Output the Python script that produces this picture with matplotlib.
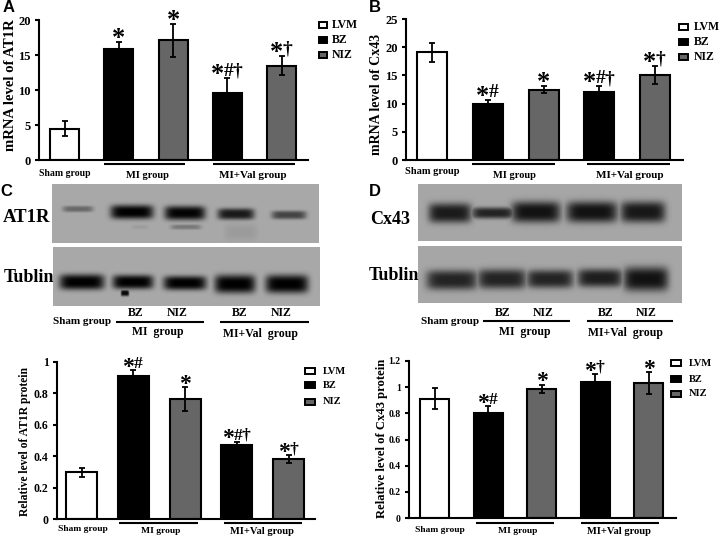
import numpy as np
import matplotlib
matplotlib.use("Agg")
import matplotlib.pyplot as plt
from matplotlib.patches import Rectangle

plt.rcParams['font.family'] = ['Liberation Serif', 'DejaVu Serif']
plt.rcParams['font.weight'] = 'bold'

W, H = 720, 538
GROUP_LABELS = ['Sham group', 'MI group', 'MI+Val group']
LEGEND_LABELS = ['LVM', 'BZ', 'NIZ']
BAR_COLORS = ['white', 'black', '#666666', 'black', '#666666']

A_values = [4.5, 15.9, 17.1, 9.6, 13.5]
A_upper = [1.1, 0.95, 2.4, 2.05, 1.35]
A_ticks = [0, 5, 10, 15, 20]
A_marks = ['', '*', '*', '*#†', '*†']

B_values = [19.1, 10.0, 12.5, 12.1, 15.0]
B_upper = [1.65, 0.7, 0.6, 1.1, 1.6]
B_ticks = [0, 5, 10, 15, 20, 25]
B_marks = ['', '*#', '*', '*#†', '*†']

C_values = [0.297, 0.91, 0.765, 0.47, 0.38]
C_upper = [0.03, 0.04, 0.075, 0.022, 0.025]
C_ticks = [0, 0.2, 0.4, 0.6, 0.8, 1]
C_marks = ['', '*#', '*', '*#†', '*†']

D_values = [0.913, 0.80, 0.987, 1.043, 1.033]
D_upper = [0.082, 0.057, 0.033, 0.057, 0.084]
D_ticks = [0, 0.2, 0.4, 0.6, 0.8, 1, 1.2]
D_marks = ['', '*#', '*', '*†', '*']

MARK_SHIFTS = {1: [0], 2: [-5.5, 5.5], 3: [-10, 1, 10]}

fig = plt.figure(figsize=(W / 100, H / 100), dpi=100, facecolor='white')


def bar_panel(values, upper, ticks, marks, ylabel, left, right, top, bottom, x0, step, bw,
              ymax, tickfs, labelfs, label_x, label_y, scale):
    ax = fig.add_axes([left / W, 1 - bottom / H, (right - left) / W, (bottom - top) / H])
    ax.patch.set_alpha(0)
    x = np.arange(len(values))
    ax.bar(x, values, width=bw / step, color=BAR_COLORS, edgecolor='black', linewidth=1.5, zorder=2)
    ax.errorbar(x, values, yerr=[upper, upper], fmt='none', ecolor='black', elinewidth=1.3,
                capsize=2.4, capthick=1.3, zorder=3)
    ax.set_xlim((left - x0) / step, (right - x0) / step)
    ax.set_ylim(0, ymax)
    ax.set_yticks(ticks)
    ax.set_yticklabels([f'{t:g}' for t in ticks], fontsize=tickfs, fontweight='bold')
    ax.set_xticks([])
    ax.tick_params(axis='y', direction='out', length=3, width=1.5, pad=3)
    for s in ('top', 'right'):
        ax.spines[s].set_visible(False)
    for s in ('left', 'bottom'):
        ax.spines[s].set_linewidth(1.5)
    for i, m in enumerate(marks):
        for ch, dx in zip(m, MARK_SHIFTS.get(len(m), [])):
            star = ch == '*'
            ax.annotate(ch, (i, values[i] + upper[i]),
                        xytext=(dx * scale, (-3 if star else 2.5) * scale), textcoords='offset pixels',
                        ha='center', va='baseline', fontsize=(19 if star else 14) * scale,
                        fontweight='bold', annotation_clip=False)
    fig.text(label_x / W, 1 - label_y / H, ylabel, rotation=90, ha='center', va='center',
             fontsize=labelfs, fontweight='bold')
    return ax


bar_panel(A_values, A_upper, A_ticks, A_marks, 'mRNA level of AT1R', 39, 308, 20, 160,
          64.5, 54.3, 29, 20, 9, 10.6, 11, 85, 1)
bar_panel(B_values, B_upper, B_ticks, B_marks, 'mRNA level of Cx43', 406, 683, 19, 160,
          432, 55.8, 30, 25, 9, 10, 377, 94, 1)
bar_panel(C_values, C_upper, C_ticks, C_marks, 'Relative level of AT1R protein', 57, 315, 362, 519,
          81.5, 51.8, 31, 1, 8.5, 8.4, 25, 441, .9)
bar_panel(D_values, D_upper, D_ticks, D_marks, 'Relative level of Cx43 protein', 409, 676, 361, 518,
          434.5, 53.6, 29, 1.2, 7, 9.1, 382, 438, .9)

ov = fig.add_axes([0, 0, 1, 1])
ov.set_xlim(0, W)
ov.set_ylim(H, 0)
ov.axis('off')
ov.patch.set_alpha(0)

# Western-blot panels: (x centre, y centre, half width, half height, darkness)
C_TOP = [(78, 209, 15, 2.2, .38), (132, 212, 21, 5, 1.0), (185, 213, 20, 5, .98), (236, 214, 18, 4, .85),
         (289, 215, 17, 3, .6), (186, 227, 15, 1.8, .28), (140, 227, 8, 1.5, .07), (241, 232, 16, 6, .08)]
C_BOT = [(82, 282, 22, 5.5, 1.0), (133, 282, 20, 5, 1.0), (185, 283, 21, 5, 1.0), (235, 284, 20, 6.5, 1.0),
         (287, 284, 21, 6.5, 1.0), (125, 293, 4, 2.2, .95)]
D_TOP = [(450, 213, 21, 7, .8), (493, 213, 21, 4, .75), (536, 212, 24, 7.5, .85), (592, 212, 25, 7.5, .85),
         (643, 212, 22, 7.5, .82)]
D_BOT = [(452, 280, 25, 7, .75), (502, 279, 24, 7, .75), (550, 279, 23, 6.5, .75), (600, 278, 22, 6.5, .78),
         (646, 279, 22, 8.5, .85)]


def blot(x0, x1, y0, y1, base, bands, gain=1.0):
    xs, ys = np.meshgrid(np.arange(x0, x1) + .5, np.arange(y0, y1) + .5)
    dark = np.zeros_like(xs)
    for cx, cy, hw, hh, d in bands:
        v = min(d * gain, 1) * np.exp(-np.abs((xs - cx) / (hw * 1.02)) ** 6 - np.abs((ys - cy) / (hh * 1.4)) ** 3)
        dark = np.maximum(dark, v)
    img = base * (1 - dark)
    ov.imshow(img, extent=(x0, x1, y1, y0), cmap='gray', vmin=0, vmax=1, aspect='auto',
              interpolation='bilinear', zorder=1)


blot(52, 319, 184, 243, .66, C_TOP)
blot(53, 320, 247, 306, .66, C_BOT)
blot(418, 682, 184, 241, .65, D_TOP, 1.05)
blot(418, 682, 246, 303, .65, D_BOT, 1.05)
ov.set_xlim(0, W)
ov.set_ylim(H, 0)


def txt(x, y, s, fs=8, **kw):
    kw.setdefault('ha', 'center')
    kw.setdefault('va', 'center')
    ov.text(x, y, s, fontsize=fs, fontweight='bold', zorder=5, **kw)


def hline(x0, x1, y, lw=1.5):
    ov.plot([x0, x1], [y, y], color='black', lw=lw, solid_capstyle='butt', zorder=5)


def legend(x0, x1, ys, tx, h, fs):
    for y, c, lab in zip(ys, ['white', 'black', '#666666'], LEGEND_LABELS):
        ov.add_patch(Rectangle((x0, y - h / 2), x1 - x0, h, fc=c, ec='black', lw=1.4, zorder=5))
        txt(tx, y, lab, fs=fs, ha='left')


legend(319, 327, [25, 40, 55], 332, 6.5, 8.5)
legend(679, 688, [27, 42, 57], 694, 6.5, 8.5)
legend(305, 315, [371, 385, 402], 323, 6.5, 7.5)
legend(671, 681, [363, 379, 394], 689, 6.5, 7.5)

for x, y, l in [(9, 7, 'A'), (375, 7, 'B'), (6, 191, 'C'), (375, 191, 'D')]:
    ov.text(x, y, l, fontsize=12, fontweight='bold', family='Liberation Sans', ha='center', va='center', zorder=5)

# group labels under panels A, B, C, D
txt(65, 173, GROUP_LABELS[0], 7)
txt(147, 175, GROUP_LABELS[1], 7.5)
txt(253, 175, GROUP_LABELS[2], 8)
hline(104, 185, 164)
hline(213, 295, 164)

txt(432, 172, GROUP_LABELS[0], 7.5)
txt(514, 175, GROUP_LABELS[1], 7.5)
txt(630, 175, GROUP_LABELS[2], 8)
hline(472, 555, 164)
hline(587, 670, 164)

txt(83, 529, GROUP_LABELS[0], 6.8)
txt(161, 531, GROUP_LABELS[1], 6.8)
txt(262, 531, GROUP_LABELS[2], 7.6)
hline(119, 198, 523)
hline(224, 302, 523)

txt(440, 530, GROUP_LABELS[0], 6.8)
txt(518, 531, GROUP_LABELS[1], 6.8)
txt(619, 531, GROUP_LABELS[2], 7.6)
hline(476, 554, 523)
hline(581, 659, 523)

# blot labels
txt(27, 217, 'AT1R', 13.5)
txt(29, 277, 'Tublin', 13)
txt(390, 220, 'Cx43', 13)
txt(394, 276, 'Tublin', 13)

txt(82, 322, GROUP_LABELS[0], 8)
for x, s in [(136, 'BZ'), (177, 'NIZ'), (240, 'BZ'), (281, 'NIZ')]:
    txt(x, 313, s, 8.5)
hline(116, 204, 322)
hline(220, 309, 322)
txt(158, 332, 'MI  group', 8.5)
txt(260, 334, 'MI+Val  group', 8.5)

txt(450, 322, GROUP_LABELS[0], 8)
for x, s in [(503, 'BZ'), (543, 'NIZ'), (606, 'BZ'), (646, 'NIZ')]:
    txt(x, 313, s, 8.5)
hline(483, 570, 321)
hline(587, 673, 321)
txt(525, 332, 'MI  group', 8.5)
txt(625, 333, 'MI+Val  group', 8.5)

fig.savefig('out.png', dpi=100, facecolor='white')
